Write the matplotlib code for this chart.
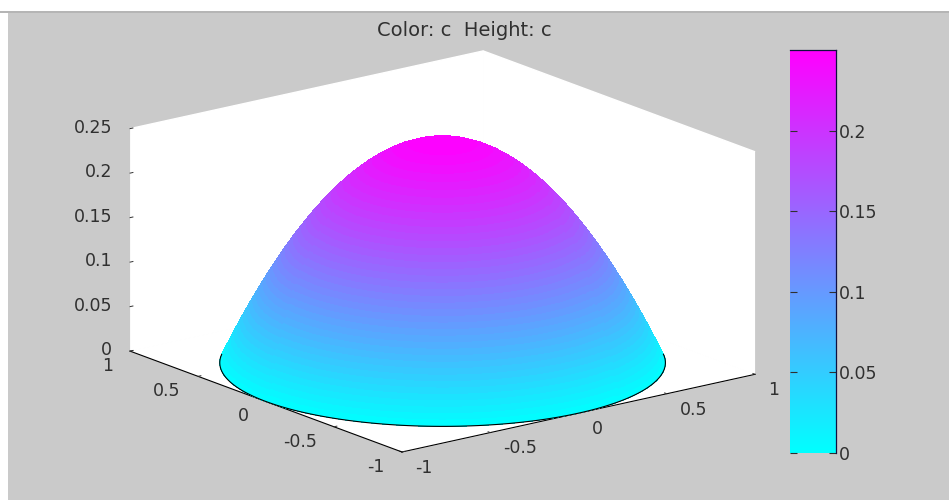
import numpy as np
import matplotlib
matplotlib.use("Agg")
import matplotlib.pyplot as plt
from matplotlib.patches import Rectangle
from mpl_toolkits.mplot3d import proj3d

# Profile of the dome: height against radius
heights = [0, .00625, .0125, .01875, .025, .03125, .0375, .04375, .05, .05625, .0625,
           .06875, .075, .08125, .0875, .09375, .1, .10625, .1125, .11875, .125,
           .13125, .1375, .14375, .15, .15625, .1625, .16875, .175, .18125, .1875,
           .19375, .2, .20625, .2125, .21875, .225, .23125, .2375, .24375, .25]
radii = [1.0, .9874, .9747, .9618, .9487, .9354, .9220, .9083, .8944, .8803, .8660,
         .8515, .8367, .8216, .8062, .7906, .7746, .7583, .7416, .7246, .7071,
         .6892, .6708, .6519, .6325, .6124, .5916, .5701, .5477, .5244, .5,
         .4743, .4472, .4183, .3873, .3536, .3162, .2739, .2236, .1581, 0.0]
xy_ticks = [-1, -0.5, 0, 0.5, 1]
xy_labels = ['-1', '-0.5', '0', '0.5', '1']
z_ticks = [0, 0.05, 0.1, 0.15, 0.2, 0.25]
z_labels = ['0', '0.05', '0.1', '0.15', '0.2', '0.25']
cbar_ticks = [0, 0.05, 0.1, 0.15, 0.2]
cbar_labels = ['0', '0.05', '0.1', '0.15', '0.2']
title = 'Color: c  Height: c'

GRAY = '#cacaca'
TXT = '#303030'
W, H = 949, 500
FS = 12.5
plt.rcParams['font.family'] = ['DejaVu Sans']
plt.rcParams['font.size'] = FS

fig = plt.figure(figsize=(W / 100, H / 100), dpi=100, facecolor=GRAY)
# window chrome: white strips at the top and left, thin gray rule
fig.patches.append(Rectangle((0, 1 - 11 / H), 1, 11 / H, transform=fig.transFigure, fc='white', ec='none'))
fig.patches.append(Rectangle((0, 0), 8 / W, 1, transform=fig.transFigure, fc='white', ec='none'))
fig.patches.append(Rectangle((0, 1 - 12.5 / H), 1, 1.5 / H, transform=fig.transFigure, fc='#b5b5b5', ec='none'))

ax = fig.add_axes([0.1, 0.1, 0.8, 0.8], projection='3d', proj_type='ortho')
ax.patch.set_visible(False)
ax.computed_zorder = False
ax.view_init(elev=16.6, azim=-127.6)
ax.set_box_aspect((1, 1, 0.521))
ax.set_xlim(-1, 1, view_margin=0)
ax.set_ylim(-1, 1, view_margin=0)
ax.set_zlim(0, 0.25, view_margin=0)

angles = np.linspace(0, 2 * np.pi, 181)
R, T = np.meshgrid(radii, angles)
Z = np.tile(heights, (len(angles), 1))
surf = ax.plot_surface(R * np.cos(T), R * np.sin(T), Z, cmap='cool', vmin=0, vmax=0.25,
                       rstride=1, cstride=1, linewidth=0, antialiased=False, shade=False, zorder=1)
front = np.deg2rad(np.linspace(-225, -30, 120))
ax.plot(np.cos(front), np.sin(front), np.zeros_like(front), color='black', lw=0.8, zorder=2)

ax.grid(False)
for a in (ax.xaxis, ax.yaxis, ax.zaxis):
    a.set_pane_color((1, 1, 1, 1))
    a.pane.set_edgecolor('white')
    a._axinfo['tick']['inward_factor'] = 0.0
    a._axinfo['tick']['outward_factor'] = 0.1
    a._axinfo['tick']['linewidth'] = {True: 0.7, False: 0.5}
    a.line.set_linewidth(0.8)
ax.zaxis.line.set_color((0, 0, 0, 0))
ax.set_xticks(xy_ticks, xy_labels)
ax.set_yticks(xy_ticks, xy_labels)
ax.set_zticks(z_ticks, z_labels)
ax.tick_params(axis='x', colors=TXT, labelsize=FS, pad=4)
ax.tick_params(axis='y', colors=TXT, labelsize=FS, pad=4)
ax.tick_params(axis='z', colors=TXT, labelsize=FS, pad=-1)
plt.setp(ax.xaxis.get_ticklabels(), ha='left', va='center')
plt.setp(ax.yaxis.get_ticklabels(), ha='right', va='center')
plt.setp(ax.zaxis.get_ticklabels(), ha='right', va='center')

# place the box: front corner and left/right corners on the reference pixels
M = ax.get_proj()
def pr(x, y, z):
    a, b, _ = proj3d.proj_transform(x, y, z, M)
    return float(a), float(b)
xl, yl = pr(-1, 1, 0)
xr, yr = pr(1, -1, 0)
xf, yf = pr(-1, -1, 0)
lim_x = ax.viewLim.intervalx
lim_y = ax.viewLim.intervaly
side = 625 / (xr - xl) * (lim_x[1] - lim_x[0])
left = 402 - (xf - lim_x[0]) / (lim_x[1] - lim_x[0]) * side
bottom = (H - 452) - (yf - lim_y[0]) / (lim_y[1] - lim_y[0]) * side
ax.set_position([left / W, bottom / H, side / W, side / H])

fig.text(464 / W, 1 - 31 / H, title, ha='center', va='center', color=TXT, fontsize=14)

cax = fig.add_axes([790 / W, 1 - 453 / H, 46 / W, 403 / H])
cb = fig.colorbar(surf, cax=cax, ticks=cbar_ticks)
cb.set_ticklabels(cbar_labels)
cax.tick_params(axis='y', direction='in', left=True, right=True, length=5, width=0.8,
                colors=TXT, labelsize=FS, pad=2)
cb.outline.set_visible(False)
cax.plot([1, 1], [0, 1], transform=cax.transAxes, color='#101040', lw=0.9, clip_on=False)
cax.plot([0, 1], [1, 1], transform=cax.transAxes, color='#101040', lw=0.9, clip_on=False)

fig.savefig('out.png', dpi=100, facecolor=GRAY)
